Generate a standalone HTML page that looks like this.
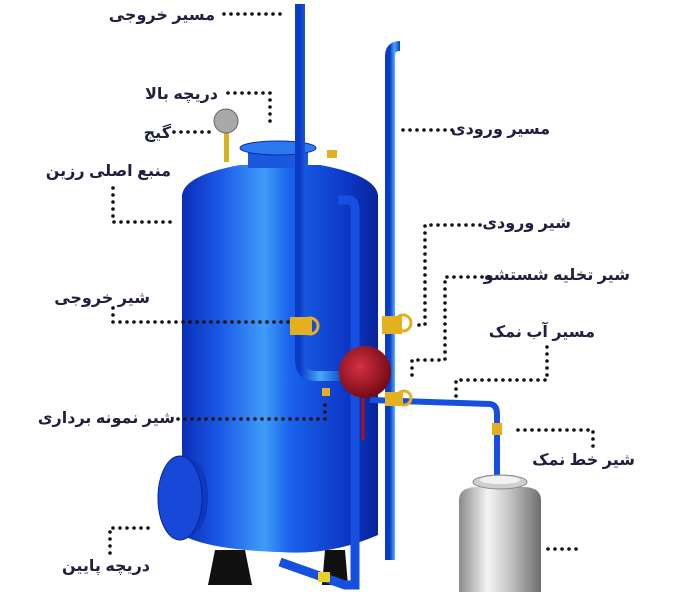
<!DOCTYPE html>
<html><head><meta charset="utf-8"><style>
html,body{margin:0;padding:0;background:#fff;width:700px;height:598px;overflow:hidden}
svg{display:block}
text{font-family:"Liberation Sans","DejaVu Sans",sans-serif;font-size:16px;font-weight:bold;fill:#1f2040}
.d{stroke:#111;stroke-width:3.6;stroke-linecap:round;stroke-dasharray:0 7;fill:none}
</style></head><body>
<svg width="700" height="598" viewBox="0 0 700 598" xmlns="http://www.w3.org/2000/svg">
<defs>
<linearGradient id="tk" x1="0" x2="1" y1="0" y2="0">
<stop offset="0" stop-color="#0a2fb8"/><stop offset="0.2" stop-color="#1c5ae8"/><stop offset="0.42" stop-color="#3f9cf8"/><stop offset="0.55" stop-color="#1a62ec"/><stop offset="0.85" stop-color="#0c36c4"/><stop offset="1" stop-color="#0a249a"/>
</linearGradient>
<linearGradient id="pp" x1="0" x2="1" y1="0" y2="0">
<stop offset="0" stop-color="#0b3cc8"/><stop offset="0.45" stop-color="#4aa8ff"/><stop offset="1" stop-color="#0b3cc0"/>
</linearGradient>
<linearGradient id="sl" x1="0" x2="1" y1="0" y2="0">
<stop offset="0" stop-color="#8a8a8a"/><stop offset="0.35" stop-color="#f4f4f4"/><stop offset="0.6" stop-color="#c8c8c8"/><stop offset="1" stop-color="#6e6e6e"/>
</linearGradient>
<radialGradient id="rd" cx="0.4" cy="0.4" r="0.7">
<stop offset="0" stop-color="#d43040"/><stop offset="1" stop-color="#6a0610"/>
</radialGradient>
</defs>

<polygon points="215,550 245,550 252,585 208,585" fill="#111"/>
<polygon points="325,550 345,550 348,585 322,585" fill="#111"/>

<path d="M182,195 Q185,175 240,165 L320,165 Q375,175 378,195 L378,535 Q330,556 280,552 Q210,550 182,535 Z" fill="url(#tk)"/>
<rect x="248" y="150" width="60" height="18" fill="#1a58e0"/>
<ellipse cx="278" cy="148" rx="38" ry="7" fill="#2c78f0" stroke="#0a2fa0"/>
<rect x="224" y="132" width="5" height="30" fill="#d8b020"/>
<circle cx="226" cy="121" r="12" fill="#a9a9a9" stroke="#666"/>
<rect x="327" y="150" width="10" height="8" fill="#e0b020"/>

<ellipse cx="192" cy="497" rx="16" ry="37" fill="#0d38c0"/>
<ellipse cx="180" cy="498" rx="22" ry="42" fill="#1748d8" stroke="#0a2590"/>

<path d="M300,4 L300,360 Q300,376 316,376 L345,376" stroke="url(#pp)" stroke-width="10" fill="none"/>
<rect x="290" y="317" width="22" height="18" fill="#e4b020"/>
<circle cx="310" cy="326" r="8" fill="none" stroke="#e4b020" stroke-width="3"/>

<path d="M338,200 L348,200 Q355,200 355,210 L355,585 L345,585 L280,562" stroke="#1650e0" stroke-width="9" fill="none"/>
<path d="M400,46 Q390,46 390,56 L390,560" stroke="url(#pp)" stroke-width="10" fill="none"/>
<rect x="382" y="316" width="20" height="18" fill="#e4b020"/>
<circle cx="403" cy="323" r="8" fill="none" stroke="#e4b020" stroke-width="3"/>
<path d="M370,400 L490,404 Q497,405 497,414 L497,478" stroke="#1550e0" stroke-width="6" fill="none"/>
<rect x="385" y="392" width="18" height="14" fill="#e4b020"/>
<circle cx="404" cy="398" r="7" fill="none" stroke="#e4b020" stroke-width="3"/>
<rect x="492" y="423" width="10" height="12" fill="#e4b020"/>
<line x1="363" y1="385" x2="363" y2="440" stroke="#b01018" stroke-width="3"/>
<circle cx="365" cy="372" r="26" fill="url(#rd)"/>
<rect x="322" y="388" width="8" height="8" fill="#e4b020"/>
<rect x="318" y="572" width="12" height="10" fill="#e8d020"/>

<path d="M459,500 Q459,488 475,487 L525,487 Q541,488 541,500 L541,592 L459,592 Z" fill="url(#sl)"/>
<ellipse cx="500" cy="482" rx="27" ry="7" fill="#cfcfcf" stroke="#888"/>
<ellipse cx="500" cy="480" rx="20" ry="4" fill="#f2f2f2"/>

<path class="d" d="M224,14 L283,14"/>
<path class="d" d="M228,93 L270,93 L270,127"/>
<path class="d" d="M174,132 L210,132"/>
<path class="d" d="M113,188 L113,222 L172,222"/>
<path class="d" d="M113,308 L113,322 L290,322"/>
<path class="d" d="M178,419 L325,419 L325,398"/>
<path class="d" d="M110,553 L110,528 L153,528"/>
<path class="d" d="M403,130 L456,130"/>
<path class="d" d="M480,225 L425,225 L425,325 L416,325"/>
<path class="d" d="M489,277 L445,277 L445,360 L412,360 L412,376"/>
<path class="d" d="M547,347 L547,380 L456,380 L456,398"/>
<path class="d" d="M518,430 L593,430 L593,450"/>
<path class="d" d="M548,549 L583,549"/>

<text x="215" y="20" text-anchor="end">مسیر خروجی</text>
<text x="218" y="99" text-anchor="end">دریچه بالا</text>
<text x="171" y="138" text-anchor="end">گیج</text>
<text x="171" y="176" text-anchor="end">منبع اصلی رزین</text>
<text x="150" y="303" text-anchor="end">شیر خروجی</text>
<text x="175" y="423" text-anchor="end">شیر نمونه برداری</text>
<text x="150" y="571" text-anchor="end">دریچه پایین</text>
<text x="550" y="134" text-anchor="end">مسیر ورودی</text>
<text x="571" y="228" text-anchor="end">شیر ورودی</text>
<text x="630" y="280" text-anchor="end">شیر تخلیه شستشو</text>
<text x="595" y="337" text-anchor="end">مسیر آب نمک</text>
<text x="635" y="465" text-anchor="end">شیر خط نمک</text>
</svg>
</body></html>
